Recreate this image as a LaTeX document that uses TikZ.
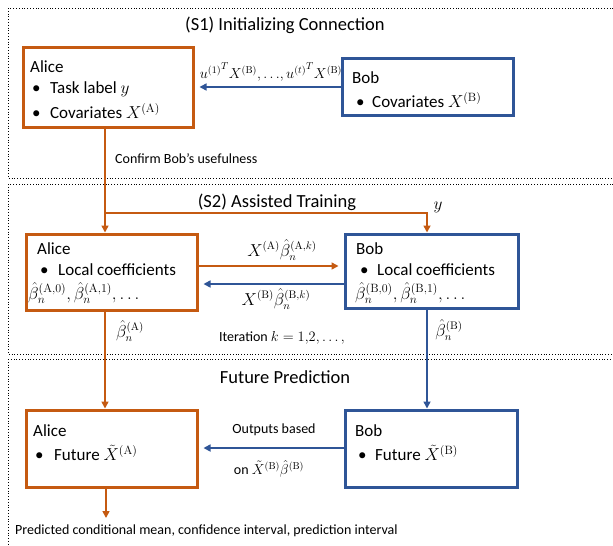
\documentclass[tikz,border=0pt]{standalone}
\usepackage[no-math]{fontspec}
\setmainfont{Carlito}
\usetikzlibrary{arrows.meta}
\definecolor{orng}{HTML}{C55A11}
\definecolor{blu}{HTML}{2F5597}
\begin{document}
\begin{tikzpicture}[x=1pt,y=-1pt,
  obox/.style={draw=orng,line width=3pt,inner sep=0pt},
  bbox/.style={draw=blu,line width=3pt,inner sep=0pt},
  txt/.style={anchor=west,inner sep=0pt,font=\fontsize{17}{20}\selectfont},
  lbl/.style={inner sep=0pt,font=\fontsize{16}{19}\selectfont},
  small/.style={inner sep=0pt,font=\fontsize{14}{16}\selectfont},
  ttl/.style={inner sep=0pt,font=\fontsize{18.5}{22}\selectfont},
  oline/.style={draw=orng,line width=1.6pt},
  oarr/.style={oline,-{Triangle[length=7pt,width=7pt]}},
  barr/.style={draw=blu,line width=1.6pt,-{Triangle[length=7pt,width=7pt]}},
  phase/.style={draw,dotted,line width=0.8pt}]
\useasboundingbox (0,0) rectangle (613,546);
% phases
\draw[phase] (8,8) rectangle (625,178);
\draw[phase] (8,184) rectangle (625,354);
\draw[phase] (8,359) rectangle (625,560);
\node[ttl] (t1) at (285,25) {(S1) Initializing Connection};
\node[ttl] (t2) at (277,202) {(S2) Assisted Training};
\node[ttl] (t3) at (285,377) {Future Prediction};
% boxes
\node[obox,minimum width=170pt,minimum height=80pt] (alice1) at (108,87) {};
\node[bbox,minimum width=171pt,minimum height=57pt] (bob1) at (427.5,86.5) {};
\node[obox,minimum width=171pt,minimum height=76pt] (alice2) at (111.5,272) {};
\node[bbox,minimum width=173pt,minimum height=74pt] (bob2) at (431.5,271) {};
\node[obox,minimum width=171pt,minimum height=77pt] (alice3) at (111.5,448.5) {};
\node[bbox,minimum width=172pt,minimum height=77pt] (bob3) at (431,448.5) {};
% texts
\node[txt] (a1n) at (30,67) {Alice};
\node[txt] (a1b) at (32,89) {\makebox[18pt][l]{•}Task label $y$};
\node[txt] (a1c) at (32,111) {\makebox[18pt][l]{•}Covariates $X^{(\mathrm{A})}$};
\node[txt] (b1n) at (352,78) {Bob};
\node[txt] (b1b) at (356,100) {\makebox[16pt][l]{•}Covariates $X^{(\mathrm{B})}$};
\node[txt] (a2n) at (37,249) {Alice};
\node[txt] (a2b) at (40,270) {\makebox[18pt][l]{•}Local coefficients};
\node[txt] (a2c) at (28,293) {$\hat\beta_n^{(\mathrm{A},0)},\hat\beta_n^{(\mathrm{A},1)},\ldots$};
\node[txt] (b2n) at (356,249) {Bob};
\node[txt] (b2b) at (360,270) {\makebox[17pt][l]{•}Local coefficients};
\node[txt] (b2c) at (355,293) {$\hat\beta_n^{(\mathrm{B},0)},\hat\beta_n^{(\mathrm{B},1)},\ldots$};
\node[txt] (a3n) at (33,431) {Alice};
\node[txt] (a3b) at (35,453) {\makebox[19pt][l]{•}Future $\tilde X^{(\mathrm{A})}$};
\node[txt] (b3n) at (355,431) {Bob};
\node[txt] (b3b) at (358,453) {\makebox[17pt][l]{•}Future $\tilde X^{(\mathrm{B})}$};
% junctions
\coordinate (j1) at (105,213);
\coordinate (j2) at (427,213);
% S1 connectors
\draw[barr,shorten >=5pt] (bob1.west |- 0,87) -- (alice1.east |- 0,87);
\node[inner sep=0pt,font=\fontsize{14.5}{17}\selectfont] (l1) at (271,72) {${u^{(1)}}^{T}X^{(\mathrm{B})},{\ldots},{u^{(t)}}^{T}X^{(\mathrm{B})}$};
\draw[oline] (alice1.south -| j1) -- (j1);
\draw[oarr] (j1) -- (alice2.north -| j1);
\draw[oarr] (j1) -- (j2) -- (bob2.north -| j2);
\node[small,anchor=west] (l2) at (115,159) {Confirm Bob’s usefulness};
\node[lbl] (ly) at (438,207) {$y$};
% S2 connectors
\draw[oarr,shorten >=5pt] (alice2.east |- 0,266) -- (bob2.west |- 0,266);
\draw[barr,shorten >=5pt] (bob2.west |- 0,284) -- (alice2.east |- 0,284);
\node[lbl] (l3) at (282,250) {$X^{(\mathrm{A})}\hat\beta_n^{(\mathrm{A},k)}$};
\node[lbl] (l4) at (276,299) {$X^{(\mathrm{B})}\hat\beta_n^{(\mathrm{B},k)}$};
\node[small] (l5) at (282,338) {Iteration $k=1{,}2,\ldots,$};
\draw[oarr] (alice2.south -| j1) -- (alice3.north -| j1);
\draw[barr] (bob2.south -| j2) -- (bob3.north -| j2);
\node[lbl] (l6) at (130,331) {$\hat\beta_n^{(\mathrm{A})}$};
\node[lbl] (l7) at (449,330) {$\hat\beta_n^{(\mathrm{B})}$};
% Future connectors
\draw[barr,shorten >=5pt] (bob3.west |- 0,448) -- (alice3.east |- 0,448);
\node[small] (l8) at (274,430) {Outputs based};
\node[small] (l9) at (269,469) {on $\tilde X^{(\mathrm{B})}\hat\beta^{(\mathrm{B})}$};
\coordinate (out) at (106,518);
\draw[oarr] (alice3.south -| out) -- (out);
\node[small,anchor=west] (l10) at (15,531) {Predicted conditional mean, confidence interval, prediction interval};
\end{tikzpicture}
\end{document}
